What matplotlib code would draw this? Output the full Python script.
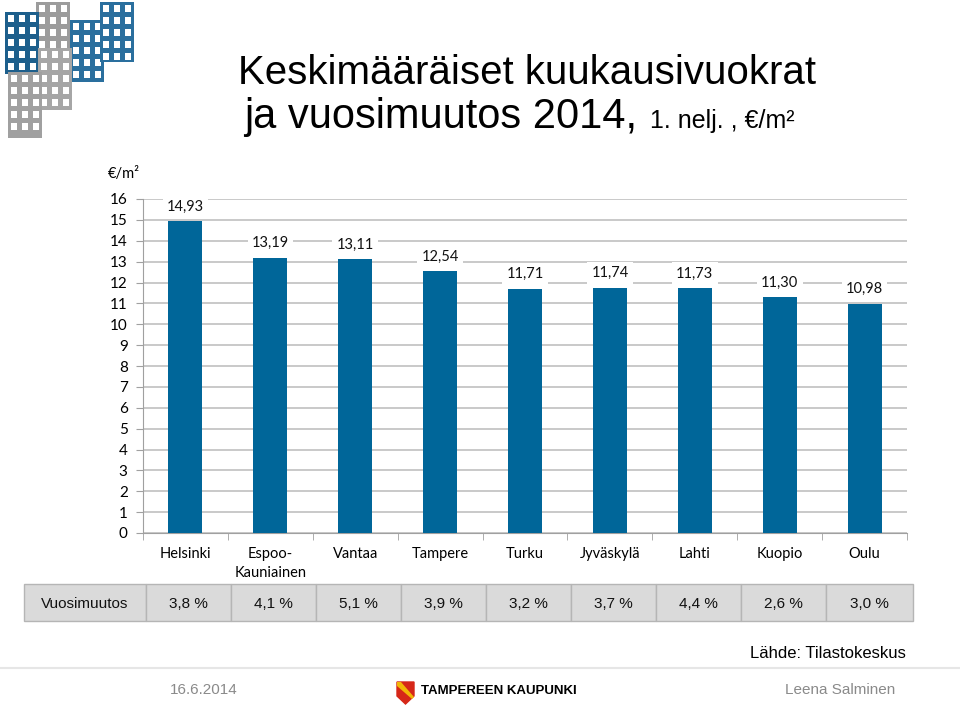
import numpy as np
import matplotlib.pyplot as plt
from matplotlib.patches import Rectangle, Polygon

cities = ['Helsinki', 'Espoo-\nKauniainen', 'Vantaa', 'Tampere', 'Turku',
          'Jyväskylä', 'Lahti', 'Kuopio', 'Oulu']
rents = [14.93, 13.19, 13.11, 12.54, 11.71, 11.74, 11.73, 11.30, 10.98]
changes = ['3,8 %', '4,1 %', '5,1 %', '3,9 %', '3,2 %', '3,7 %', '4,4 %', '2,6 %', '3,0 %']

W, H = 960, 708
fig = plt.figure(figsize=(9.6, 7.08), dpi=100)
chart_font = ['Lato', 'DejaVu Sans']
text_font = ['Liberation Sans', 'DejaVu Sans']

def fx(px):
    return px / W

def fy(py):
    return 1 - py / H

# chart
ax = fig.add_axes([fx(143), fy(533), fx(907) - fx(143), fy(199) - fy(533)])
x = np.arange(len(cities))
ax.bar(x, rents, width=0.4, color='#006699', zorder=3)
for xi, v in zip(x, rents):
    ax.text(xi, v + 0.7, f'{v:.2f}'.replace('.', ','), ha='center', va='center',
            fontsize=10.5, family=chart_font, color='#111111', zorder=4,
            bbox=dict(facecolor='white', edgecolor='none', pad=3))
ax.set_xlim(-0.5, len(cities) - 0.5)
ax.set_ylim(0, 16)
ax.set_yticks(range(0, 17))
ax.yaxis.grid(True, color='#c0c0c0', linewidth=1.2, zorder=0)
for s in ['top', 'right']:
    ax.spines[s].set_visible(False)
ax.spines['left'].set_color('#a0a0a0')
ax.spines['bottom'].set_color('#a0a0a0')
ax.tick_params(axis='y', length=5, color='#a0a0a0', labelsize=11, pad=6)
ax.set_xticks(x)
ax.set_xticklabels(cities, family=chart_font, fontsize=10.5, linespacing=1.5)
ax.set_xticks(np.arange(-0.5, len(cities)), minor=True)
ax.tick_params(axis='x', which='major', length=0, pad=10)
ax.tick_params(axis='x', which='minor', length=5, color='#a0a0a0')
for lab in ax.get_yticklabels():
    lab.set_family(chart_font)
fig.text(fx(108), fy(174), '€/m²', fontsize=10.5, family=chart_font, va='center')

# table row
cell_edges = [24, 146, 231, 316, 401, 486, 571, 656, 741, 826, 913]
labels = ['Vuosimuutos'] + changes
for i, lab in enumerate(labels):
    x0, x1 = cell_edges[i], cell_edges[i + 1]
    fig.patches.append(Rectangle((fx(x0), fy(621)), fx(x1) - fx(x0), fy(584) - fy(621),
                                 transform=fig.transFigure, facecolor='#dadada',
                                 edgecolor='#b5b5b5', linewidth=1))
    fig.text(fx((x0 + x1) / 2), fy(604), lab, ha='center', va='center',
             fontsize=11, family=text_font, color='#111111')

# title
fig.text(fx(238), fy(73), 'Keskimääräiset kuukausivuokrat', fontsize=29,
         family=text_font, va='center', ha='left')
fig.text(fx(244), fy(117), 'ja vuosimuutos 2014,', fontsize=30,
         family=text_font, va='center', ha='left')
fig.text(fx(650), fy(121), '1. nelj. , €/m²', fontsize=18,
         family=text_font, va='center', ha='left')

# source and footer
fig.text(fx(906), fy(654), 'Lähde: Tilastokeskus', fontsize=12, family=text_font,
         ha='right', va='center')
fig.add_artist(plt.Line2D([0, 1], [fy(668), fy(668)], color='#e6e6e6', linewidth=1.5))
fig.text(fx(170), fy(690), '16.6.2014', fontsize=11, family=text_font,
         color='#8a8a8a', va='center')
fig.text(fx(895), fy(690), 'Leena Salminen', fontsize=11, family=text_font,
         color='#8a8a8a', va='center', ha='right')
fig.text(fx(421), fy(691), 'TAMPEREEN KAUPUNKI', fontsize=9.5, fontweight='bold',
         family=text_font, va='center')
fig.patches.append(Polygon([(fx(397), fy(682)), (fx(414), fy(682)), (fx(414), fy(696)),
                            (fx(405.5), fy(704)), (fx(397), fy(696))],
                           closed=True, transform=fig.transFigure,
                           facecolor='#d62718', edgecolor='#d62718', linewidth=1))
fig.patches.append(Polygon([(fx(397), fy(682)), (fx(401), fy(682)), (fx(414), fy(697)),
                            (fx(412), fy(699)), (fx(397), fy(686))],
                           closed=True, transform=fig.transFigure,
                           facecolor='#f2b705', edgecolor='none'))

# logo: stylised window grids
def block(x0, y0, w, h, color):
    fig.patches.append(Rectangle((fx(x0), fy(y0 + h)), fx(w), h / H,
                                 transform=fig.transFigure, facecolor=color, edgecolor='none'))
    for r in range(int(h // 12)):
        for c in range(int(w // 11)):
            fig.patches.append(Rectangle((fx(x0 + 3 + c * 11), fy(y0 + 3 + r * 12 + 7)),
                                         fx(6), 7 / H, transform=fig.transFigure,
                                         facecolor='white', edgecolor='none'))

block(36, 2, 34, 50, '#9c9c9c')
block(5, 12, 34, 62, '#1d5f8c')
block(70, 20, 34, 62, '#2a6f9e')
block(38, 48, 34, 62, '#a6a6a6')
block(8, 72, 34, 66, '#a0a0a0')
block(100, 2, 34, 60, '#2a6f9e')

fig.savefig('out.png', dpi=100)
